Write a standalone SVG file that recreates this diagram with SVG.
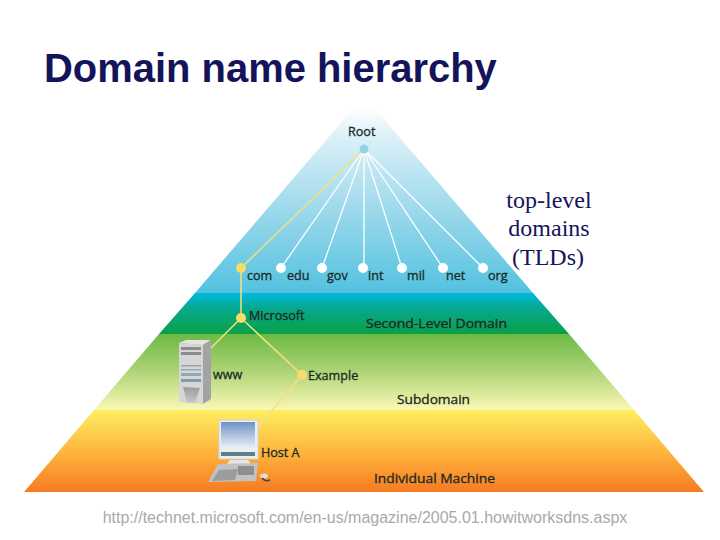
<svg xmlns="http://www.w3.org/2000/svg" width="720" height="540" viewBox="0 0 720 540">
<style>
.l{font-family:"Open Sans","Liberation Sans",Arial,sans-serif;font-size:12.6px;fill:#1a2825;stroke:#1a2825;stroke-width:.3px}
.t{font-family:"Liberation Serif","Times New Roman",serif;font-size:24px;fill:#14145a;text-anchor:middle}
.w{stroke:#fff;stroke-width:1.3;fill:none}
.y{stroke:#f2e27c;stroke-width:1.5;fill:none}
.dw{fill:#fff}.dy{fill:#f7dc6a}
</style>
<defs>
<linearGradient id="g1" x1="0" y1="108" x2="0" y2="293" gradientUnits="userSpaceOnUse"><stop offset="0" stop-color="#fff"/><stop offset=".15" stop-color="#dcf1f8"/><stop offset=".6" stop-color="#95d6ea"/><stop offset="1" stop-color="#52c2e0"/></linearGradient>
<linearGradient id="g2" x1="0" y1="294" x2="0" y2="334" gradientUnits="userSpaceOnUse"><stop offset="0" stop-color="#00b8dc"/><stop offset=".35" stop-color="#06a98e"/><stop offset="1" stop-color="#0a9f48"/></linearGradient>
<linearGradient id="g3" x1="0" y1="334" x2="0" y2="410" gradientUnits="userSpaceOnUse"><stop offset="0" stop-color="#6cb944"/><stop offset=".45" stop-color="#a8d172"/><stop offset="1" stop-color="#fbf8b4"/></linearGradient>
<linearGradient id="g4" x1="0" y1="410" x2="0" y2="492" gradientUnits="userSpaceOnUse"><stop offset="0" stop-color="#ffee60"/><stop offset=".5" stop-color="#fdb73e"/><stop offset="1" stop-color="#f67a22"/></linearGradient>
<linearGradient id="scr" x1="0" y1="0" x2="0" y2="1"><stop offset="0" stop-color="#6f93c4"/><stop offset="1" stop-color="#eef2f8"/></linearGradient>
<linearGradient id="vent" x1="0" y1="0" x2="0" y2="1"><stop offset="0" stop-color="#9b9b9b"/><stop offset="1" stop-color="#c8c8c8"/></linearGradient>
</defs>
<text x="44" y="82" font-family="Liberation Sans,Arial,sans-serif" font-size="39.95" font-weight="700" fill="#14145a">Domain name hierarchy</text>

<g id="pyramid">
<polygon points="364,96 533,293 195,293" fill="url(#g1)"/>
<polygon points="195,293 533,293 569,334 159,334" fill="url(#g2)"/>
<polygon points="159,334 569,334 634,410 94,410" fill="url(#g3)"/>
<polygon points="94,410 634,410 704,492 24,492" fill="url(#g4)"/>
</g>

<g id="connectors">
<path class="w" d="M364 149L281 268M364 149L322 268M364 149V268M364 149L402 268M364 149L443 268M364 149L483 268"/>
<path class="y" d="M364 149L241 268V318M241 318L210 349M241 318L302 375"/>
<path d="M302 375L258 427" stroke="#f6df84" stroke-width="1.4" fill="none"/>
</g>

<g id="root"><circle cx="364" cy="149" r="4.5" fill="#8fd4e0"/><text class="l" x="348" y="136">Root</text></g>
<g id="com"><circle class="dy" cx="241" cy="268" r="5"/><text class="l" x="247" y="280">com</text></g>
<g id="edu"><circle class="dw" cx="281" cy="268" r="5"/><text class="l" x="287" y="280">edu</text></g>
<g id="gov"><circle class="dw" cx="322" cy="268" r="5"/><text class="l" x="327" y="280">gov</text></g>
<g id="int"><circle class="dw" cx="363" cy="268" r="5"/><text class="l" x="368" y="280">int</text></g>
<g id="mil"><circle class="dw" cx="402" cy="268" r="5"/><text class="l" x="407" y="280">mil</text></g>
<g id="net"><circle class="dw" cx="443" cy="268" r="5"/><text class="l" x="446" y="280">net</text></g>
<g id="org"><circle class="dw" cx="483" cy="268" r="5"/><text class="l" x="488" y="280">org</text></g>
<g id="microsoft"><circle class="dy" cx="241" cy="318" r="5"/><text class="l" x="249" y="320">Microsoft</text></g>
<g id="example"><circle class="dy" cx="302" cy="375" r="5"/><text class="l" x="308" y="380">Example</text></g>

<g id="www">
<polygon points="179,343 203,345 203,404 179,402" fill="#d6d6d6"/>
<polygon points="179,343 186,340 211,340 203,345" fill="#e4e4e4"/>
<polygon points="203,345 211,340 211,399 203,404" fill="#a3a3a3"/>
<rect x="181" y="347" width="20" height="3" fill="#8c8c8c"/><rect x="181" y="352" width="20" height="3" fill="#8c8c8c"/>
<rect x="181" y="365" width="20" height="1.5" fill="#8fa9b8"/><rect x="181" y="369" width="20" height="1.5" fill="#8fa9b8"/><rect x="181" y="373" width="20" height="3" fill="#8fa9b8"/><rect x="181" y="379" width="20" height="3" fill="#7f9cad"/>
<polygon points="183,387 200,388 195,403 187,403" fill="url(#vent)"/>
<text class="l" x="213" y="379">www</text>
</g>

<g id="hosta">
<rect x="219" y="420" width="39" height="39" fill="#eceff2" stroke="#cfd3d6" stroke-width="1"/>
<rect x="221" y="422" width="34" height="27" fill="url(#scr)"/>
<rect x="221" y="452" width="34" height="4" fill="#5f8088"/>
<polygon points="230,460 248,460 252,465 226,465" fill="#e6e6e6"/>
<polygon points="218,464 258,463 256,481 208,482" fill="#c2c2c2"/>
<polygon points="219,470 238,469 235,480 212,481" fill="#9c9c9c"/>
<rect x="238" y="466" width="16" height="9" fill="#8f8f8f"/>
<ellipse cx="264" cy="476" rx="4" ry="2.5" fill="#ddd"/>
<path d="M262 478Q265 482 270 480" stroke="#444" stroke-width="1.5" fill="none"/>
<text class="l" x="261" y="457">Host A</text>
</g>

<g id="bands">
<text class="l" x="366" y="328" textLength="141" lengthAdjust="spacingAndGlyphs">Second-Level Domain</text>
<text class="l" x="397" y="404" textLength="73" lengthAdjust="spacingAndGlyphs">Subdomain</text>
<text class="l" x="374" y="483" textLength="121" lengthAdjust="spacingAndGlyphs">Individual Machine</text>
</g>

<g id="tlds">
<text class="t" x="549" y="208">top-level</text>
<text class="t" x="549" y="236">domains</text>
<text class="t" x="548" y="265">(TLDs)</text>
</g>
<text x="365" y="523" text-anchor="middle" font-family="Liberation Sans,Arial,sans-serif" font-size="16" fill="#a9a9a9">http://technet.microsoft.com/en-us/magazine/2005.01.howitworksdns.aspx</text>
</svg>
